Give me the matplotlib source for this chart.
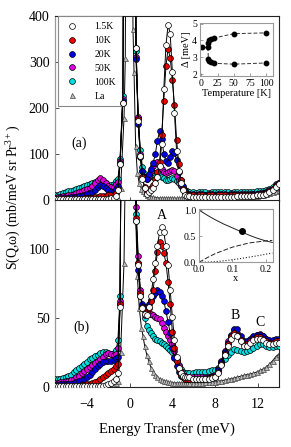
import numpy as np
import matplotlib
matplotlib.use("Agg")
import matplotlib.pyplot as plt

plt.rcParams['font.family'] = ['Liberation Serif', 'DejaVu Serif']
plt.rcParams['mathtext.fontset'] = 'custom'
plt.rcParams['mathtext.rm'] = 'Liberation Serif'
plt.rcParams['mathtext.it'] = 'Liberation Serif:italic'

# ---------------- energy grids ----------------
E_neg = [-7.0, -6.75, -6.5, -6.25, -6.0, -5.75, -5.5, -5.25, -5.0, -4.75, -4.5, -4.25,
         -4.0, -3.75, -3.5, -3.25, -3.0, -2.75, -2.5, -2.25, -2.0, -1.75, -1.5, -1.25]
E_el = [-1.1, -0.9, -0.65, -0.3, 0.0, 0.3, 0.6, 0.8, 1.0, 1.2, 1.4]
E_el_la = [-1.1, -0.85, -0.53, -0.41, -0.15, 0.1, 0.31, 0.41, 0.56, 0.72, 0.9, 1.1, 1.25, 1.4]
E_mid = [1.6, 1.8, 2.0, 2.2, 2.4, 2.6, 2.8, 3.0, 3.2, 3.4, 3.6, 3.8, 4.0, 4.2, 4.4, 4.6,
         4.8, 5.0, 5.2, 5.4, 5.6]
E_high = [5.9, 6.2, 6.5, 6.8, 7.1, 7.4, 7.7, 8.0, 8.3, 8.6, 8.9, 9.2, 9.5, 9.8, 10.1, 10.4,
          10.7, 11.0, 11.3, 11.6, 11.9, 12.2, 12.5, 12.8, 13.1, 13.4, 13.7, 14.0]
E_pr = E_neg + E_el + E_mid + E_high
E_la = E_neg + E_el_la + E_mid + E_high

labels = ['1.5K', '10K', '20K', '50K', '100K', 'La']
colors = ['#ffffff', '#ee0000', '#0000e0', '#e000e0', '#00e0e0', '#bdbdbd']

# ---------------- panel (a) ----------------
a_1p5K = ([1]*20 + [2, 3, 4, 7] +
          [20, 78, 210, 1500, 3000, 1500, 330, 170, 95, 45, 25] +
          [12, 16, 20, 25, 36, 50, 72, 120, 240, 335, 380, 360, 278, 188, 105, 62, 35, 20, 11, 8, 7] +
          [6.5, 6, 6, 6, 6, 6, 6, 6, 6, 6, 6, 6, 6.5, 6.5, 7, 7, 7, 7.5, 8, 8.5, 9, 10, 11, 13, 16, 20, 27, 33])
a_10K = ([1, 1, 1, 1, 1, 1, 1.5, 1.5, 2, 2, 2, 2.5, 3, 3, 4, 5, 6, 7, 8, 8, 9, 10, 11, 14] +
         [24, 78, 210, 1500, 3000, 1500, 330, 175, 95, 48, 28] +
         [17, 20, 25, 32, 44, 60, 82, 140, 215, 290, 328, 308, 260, 205, 130, 78, 42, 24, 14, 10, 9] +
         [9, 8.5, 9, 9, 8.5, 9, 9, 8.5, 9, 9, 9, 8.5, 9, 9, 9, 9.5, 9.5, 10, 10, 11, 11, 12, 13, 15, 18, 22, 29, 35])
a_20K = ([2, 2, 3, 3, 4, 4, 5, 5, 6, 7, 8, 10, 12, 14, 17, 21, 27, 32, 30, 25, 20, 17, 17, 22] +
         [30, 80, 215, 1500, 3000, 1500, 305, 165, 92, 62, 48] +
         [45, 55, 66, 80, 98, 128, 148, 132, 100, 83, 80, 93, 106, 102, 85, 60, 42, 29, 18, 13, 11] +
         [10, 10, 10, 11, 10, 10, 10, 10, 11, 10, 10, 10, 10, 11, 10, 11, 11, 11, 11, 12, 12, 13, 14, 16, 19, 23, 30, 36])
a_50K = ([4, 5, 6, 7, 8, 9, 10, 12, 14, 16, 18, 20, 23, 26, 30, 35, 42, 46, 43, 37, 30, 27, 28, 33] +
         [38, 84, 218, 1500, 3000, 1500, 310, 180, 100, 62, 48] +
         [45, 52, 62, 72, 80, 82, 74, 66, 60, 58, 59, 62, 65, 62, 52, 42, 32, 23, 16, 13, 12] +
         [12, 11, 12, 12, 11, 12, 12, 11, 12, 12, 12, 11, 12, 12, 12, 12, 12, 13, 12, 13, 13, 14, 15, 17, 20, 24, 31, 37])
a_100K = ([9, 10, 12, 14, 16, 18, 19, 21, 23, 25, 27, 29, 31, 33, 35, 38, 40, 42, 40, 36, 32, 31, 33, 40] +
          [45, 88, 226, 1500, 3000, 1500, 322, 178, 108, 70, 55] +
          [50, 50, 52, 55, 57, 58, 55, 50, 46, 43, 43, 45, 47, 45, 40, 35, 30, 25, 20, 18, 17] +
          [16, 15, 16, 17, 16, 15, 16, 17, 16, 16, 17, 16, 15, 16, 17, 16, 16, 17, 16, 17, 18, 18, 19, 21, 24, 28, 34, 37])
a_La = ([0.5]*20 + [0.8, 1, 1.5, 2.5] +
        [4, 25, 177, 307, 2000, 2000, 370, 278, 116, 58, 35, 24, 18, 14] +
        [10, 8, 6, 5, 4.5, 4, 3.5, 3, 3, 3, 3, 3, 3, 3, 3, 3, 3, 3, 3, 3, 3] +
        [3, 3, 3, 3, 3, 3, 3, 3.2, 3.4, 3.6, 3.8, 4, 4.3, 4.6, 5, 5.5, 6, 6.5, 7, 7.5, 8.5, 9.5, 10.5, 12, 13.5, 15.5, 18, 21])

# ---------------- panel (b) ----------------
b_1p5K = ([0.5]*17 + [1, 1, 1.5, 2, 3, 4, 6] +
          [10, 58, 400, 1500, 3000, 1500, 120, 88, 66, 57, 53] +
          [52, 58, 66, 78, 90, 102, 112, 116, 112, 102, 88, 70, 51, 34, 22, 14, 10, 8, 7, 7, 7] +
          [6, 6, 6, 6, 6, 6, 6.5, 7, 10, 16, 23, 30, 35, 38, 37, 33, 30, 30, 32, 34, 35, 35, 34, 32, 31, 31, 32, 32])
b_10K = ([0.5, 0.5, 0.5, 0.5, 0.5, 0.5, 1, 1, 1, 1, 1.5, 1.5, 2, 2.5, 3, 3.5, 4.5, 5.5, 7, 8.5, 10, 11.5, 13, 15.5] +
         [17, 60, 400, 1500, 3000, 1500, 122, 90, 68, 58, 55] +
         [54, 57, 62, 70, 84, 98, 105, 102, 97, 90, 76, 60, 40, 28, 19, 13, 9, 7, 6, 6, 6] +
         [6, 6, 6, 6, 6, 6.5, 7, 7.5, 11, 17, 24, 31, 36, 39, 38, 34, 31, 31, 33, 35, 36, 36, 35, 33, 32, 32, 33, 33])
b_20K = ([1.5, 1.5, 2, 2, 2, 2.5, 2.5, 3, 3.5, 4, 5, 6, 7.5, 9, 11, 13, 15, 16.5, 18, 19, 19, 19, 19.5, 21] +
         [22, 60, 400, 1500, 3000, 1500, 120, 85, 66, 60, 58] +
         [58, 60, 63, 66, 68, 70, 69, 66, 62, 55, 47, 39, 28, 21, 15, 11, 8, 7, 6, 6, 6] +
         [6, 6, 6, 6, 6.5, 6.5, 7, 8, 12, 18, 25, 32, 37, 42, 42, 37, 33, 33, 35, 37, 38, 38, 37, 35, 34, 34, 35, 35])
b_50K = ([3, 3, 3.5, 3.5, 4, 4.5, 5, 6, 7, 8, 10, 11.5, 13, 14.5, 16, 17.5, 19, 20.5, 22, 24, 24.5, 24, 23, 24] +
         [28, 62, 400, 1500, 3000, 1500, 130, 95, 70, 58, 52] +
         [54, 53, 53, 52, 51, 50, 49, 46, 43, 40, 37, 34, 31, 26, 20, 15, 11, 9, 8, 7, 7] +
         [7, 7, 7, 7, 7.5, 7.5, 8, 9, 13, 19, 26, 33, 38, 41, 39, 35, 32, 32, 34, 36, 38, 38.5, 37, 35, 33.5, 33, 33, 33])
b_100K = ([5.5, 5.8, 6, 6.5, 7, 8, 9, 10.5, 12, 13.5, 15, 16.5, 18, 20, 21, 22.5, 23.5, 24.5, 25, 25, 24.5, 24, 24.5, 27] +
          [34, 66, 400, 1500, 3000, 1500, 125, 90, 68, 58, 50] +
          [44, 41, 39, 37, 35, 34, 33, 32, 31, 30, 28, 27, 25, 22, 19, 16, 13, 11, 10, 10, 10] +
          [10, 10.5, 10.5, 11, 11, 11.5, 12, 12.5, 14, 17, 20, 23, 25.5, 27.5, 27, 26, 25.5, 26, 27, 28, 30, 31, 31, 30, 29, 29, 30, 30])
b_La = ([0.3]*18 + [0.8, 1, 1.2, 1.6, 2.2, 3] +
        [4, 25, 90, 160, 2000, 2000, 400, 280, 125, 80, 57, 43, 37, 30] +
        [23.5, 18.5, 14, 11, 9, 7.5, 6, 5, 4.5, 4, 3.5, 3.3, 3.2, 3, 3, 3, 3, 3, 3, 3, 3] +
        [3, 3, 3, 3.2, 3.3, 3.4, 3.6, 3.8, 4.2, 4.6, 5, 5.5, 6, 6.6, 7.2, 7.8, 8.5, 9, 9.5, 10, 10.8, 12, 13, 14.5, 16.5, 19, 22, 24])

# ---------------- inset (a): splitting vs temperature ----------------
T_low = [1.5, 10]
D_low = [3.6, 3.6]
T_branch = [10, 11, 12, 15, 20, 50, 100]
D_upper = [3.6, 3.87, 4.0, 4.1, 4.15, 4.4, 4.45]
D_lower = [3.6, 2.9, 2.8, 2.7, 2.65, 2.6, 2.67]

# ---------------- inset (b): probabilities vs x ----------------
x_conc = [0.0, 0.025, 0.05, 0.075, 0.1, 0.125, 0.15, 0.175, 0.2, 0.22]
p_solid = [1.0, 0.90, 0.81, 0.73, 0.66, 0.59, 0.52, 0.46, 0.41, 0.38]
p_dash = [0.0, 0.09, 0.17, 0.23, 0.29, 0.33, 0.37, 0.39, 0.41, 0.42]
p_dot = [0.0, 0.004, 0.013, 0.029, 0.049, 0.072, 0.098, 0.125, 0.154, 0.177]
x_dot = [0.13]
p_dotpt = [0.59]

# ---------------- figure ----------------
fig = plt.figure(figsize=(2.91, 4.47), dpi=100)
L, R = 55/291, 279/291
ax_a = fig.add_axes([L, 1-200.5/447, R-L, (200.5-15.5)/447])
ax_b = fig.add_axes([L, 1-387/447, R-L, (387-200.5)/447])

series_a = [a_1p5K, a_10K, a_20K, a_50K, a_100K]
series_b = [b_1p5K, b_10K, b_20K, b_50K, b_100K]

def draw(ax, series, la):
    ax.plot(E_la, la, '-^', color='k', lw=0.7, ms=3.6, mfc=colors[5], mec='#444444',
            mew=0.5, label=labels[5], zorder=2)
    for i in [4, 3, 2, 1, 0]:
        ax.plot(E_pr, series[i], '-o', color='k', lw=0.7, ms=4.2, mfc=colors[i], mec='k',
                mew=0.5, label=labels[i], zorder=3 + (4 - i))

draw(ax_a, series_a, a_La)
draw(ax_b, series_b, b_La)

for ax in (ax_a, ax_b):
    ax.set_xlim(-7, 14)
    ax.set_xticks([-4, 0, 4, 8, 12])
    ax.tick_params(direction='in', length=3, width=0.6, labelsize=10, pad=4, color='#333333')
    for s in ['top', 'right', 'bottom']:
        ax.spines[s].set_color('#222222')
        ax.spines[s].set_linewidth(0.8)
    ax.spines['left'].set_color('#999999')
    ax.spines['left'].set_linewidth(0.9)

ax_a.set_ylim(-2, 400)
ax_a.set_yticks([0, 100, 200, 300, 400])
ax_a.tick_params(labelbottom=False)
ax_b.set_ylim(0, 135)
ax_b.set_yticks([0, 50, 100])
ax_b.tick_params(axis='x', pad=8)
ax_b.set_xlabel('Energy Transfer (meV)', fontsize=10.5, labelpad=8)

fig.text(14/291, 1-197/447, r'S(Q,ω) (mb/meV sr Pr$^{\mathrm{3+}}$)', rotation=90,
         ha='center', va='center', fontsize=10)

ax_a.text(-4.7, 123, '(a)', ha='center', va='center', fontsize=10)
ax_b.text(-4.5, 43, '(b)', ha='center', va='center', fontsize=10)
ax_b.text(3.05, 124.5, 'A', ha='center', va='center', fontsize=10)
ax_b.text(9.85, 51.5, 'B', ha='center', va='center', fontsize=10)
ax_b.text(12.2, 46.5, 'C', ha='center', va='center', fontsize=10)

# legend
h, l = ax_a.get_legend_handles_labels()
order = [l.index(k) for k in labels]
leg = ax_a.legend([h[k] for k in order], [l[k] for k in order], loc='upper left',
                  bbox_to_anchor=(0.015, 0.995), fontsize=7, frameon=True, fancybox=False,
                  edgecolor='#888888', framealpha=1, labelspacing=0.5, handlelength=1.6,
                  handletextpad=1.5, borderpad=0.6, borderaxespad=0.0)
leg.get_frame().set_linewidth(0.8)
for lh in leg.get_lines():
    lh.set_linestyle('none')

# inset (a)
ia = fig.add_axes([200/291, 1-76/447, 72.7/291, (76-22.7)/447])
ia.plot(T_low, D_low, '--', color='#333333', lw=0.7, dashes=(4, 2))
ia.plot(T_branch, D_upper, '--', color='#333333', lw=0.7, dashes=(4, 2))
ia.plot(T_branch, D_lower, '--', color='#333333', lw=0.7, dashes=(4, 2))
ia.plot(T_low, D_low, 'o', color='k', ms=3.2)
ia.plot(T_branch[1:], D_upper[1:], 'o', color='k', ms=3.2)
ia.plot(T_branch[1:], D_lower[1:], 'o', color='k', ms=3.2)
ia.set_xlim(-2, 110)
ia.set_ylim(1.9, 5.05)
ia.set_xticks([0, 25, 50, 75, 100])
ia.set_yticks([2, 3, 4, 5])
ia.set_xlabel('Temperature [K]', fontsize=7.5, labelpad=1)
ia.set_ylabel('Δ [meV]', fontsize=7.5, labelpad=1)
ia.tick_params(direction='in', length=2, width=0.5, labelsize=7, pad=2, color='#777777')
for s in ia.spines.values():
    s.set_color('#999999')
    s.set_linewidth(0.8)

# inset (b)
ib = fig.add_axes([199/291, 1-262.3/447, 74/291, (262.3-208.5)/447])
ib.plot(x_conc, p_solid, '-', color='#222222', lw=0.7)
ib.plot(x_conc, p_dash, '--', color='#222222', lw=0.7, dashes=(5, 2))
ib.plot(x_conc, p_dot, ':', color='#222222', lw=0.8)
ib.plot(x_dot, p_dotpt, 'o', color='k', ms=4)
ib.set_xlim(0, 0.222)
ib.set_ylim(0, 1.03)
ib.set_xticks([0.0, 0.1, 0.2])
ib.set_xticklabels(['0.0', '0.1', '0.2'])
ib.set_yticks([0.0, 0.5, 1.0])
ib.set_yticklabels(['0.0', '0.5', '1.0'])
ib.set_xlabel('x', fontsize=7.5, labelpad=0)
ib.tick_params(direction='in', length=2, width=0.5, labelsize=7, pad=2, color='#777777')
for s in ib.spines.values():
    s.set_color('#999999')
    s.set_linewidth(0.8)

fig.savefig('out.png', dpi=100)
